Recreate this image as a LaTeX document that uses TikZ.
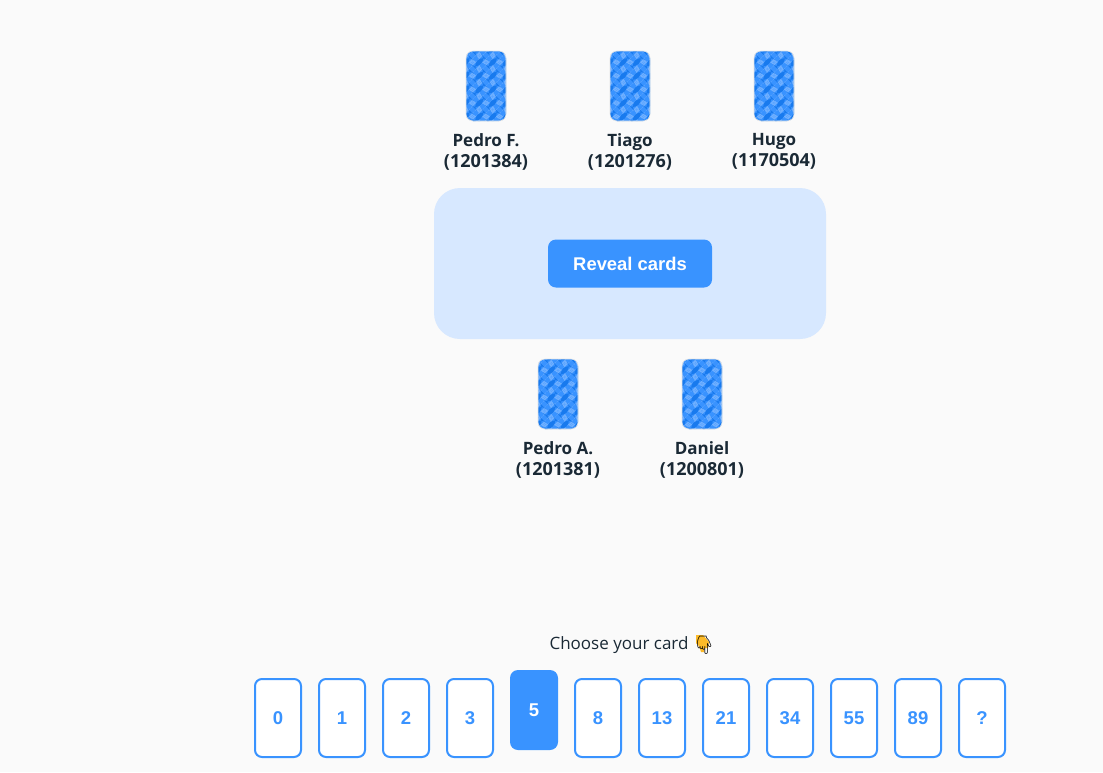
\documentclass[tikz,border=0pt]{standalone}
\usepackage{fontspec}
\setmainfont{Open Sans}
\newfontfamily\btnfont{Liberation Sans}
\newfontfamily\emojifont{Noto Emoji}
\usepackage{tikz}
\usetikzlibrary{positioning}
\definecolor{pagebg}{RGB}{250,250,250}
\definecolor{tablebg}{RGB}{215,232,255}
\definecolor{mainblue}{RGB}{57,147,255}
\definecolor{darkblue}{RGB}{24,122,238}
\definecolor{lightblue}{RGB}{112,176,255}
\definecolor{inkdark}{RGB}{26,41,53}
\definecolor{handyellow}{RGB}{252,186,40}
\tikzset{
  cardback/.style={minimum width=40pt,minimum height=70pt,inner sep=0pt,rounded corners=7pt,
    fill=mainblue,draw=black!10,line width=0.6pt,
    path picture={
      \begin{scope}[shift={(path picture bounding box.center)},x={(3.4pt,3.4pt)},y={(-3.4pt,3.4pt)}]
        \foreach \i in {-12,-10,...,12}
          \foreach \j in {-12,-10,...,12} {
            \fill[lightblue] (\i+1,\j+1) -- ++(1,0) -- ++(0,1) -- ++(-1,0) -- cycle;
            \pgfmathtruncatemacro{\odd}{mod(abs(\i+\j)/2,2)}
            \ifnum\odd=1
              \fill[darkblue] (\i-1,\j) -- ++(3,0) -- ++(0,1) -- ++(-3,0) -- cycle;
            \fi
          }
      \end{scope}}},
  playername/.style={font=\bfseries\fontsize{17}{21}\selectfont,text=inkdark,align=center,inner sep=0pt},
  votecard/.style={minimum width=46pt,minimum height=78pt,inner sep=0pt,rounded corners=7pt,
    draw=mainblue,line width=2pt,fill=white,text=mainblue,font=\btnfont\bfseries\fontsize{18.5}{20}\selectfont},
  votepicked/.style={minimum width=48pt,minimum height=80pt,inner sep=0pt,rounded corners=8pt,
    fill=mainblue,text=white,font=\btnfont\bfseries\fontsize{18.5}{20}\selectfont},
}
\begin{document}
\begin{tikzpicture}[x=1pt,y=-1pt]
  \useasboundingbox[fill=pagebg] (0,0) rectangle (1103,772);
  % table
  \node[minimum width=392pt,minimum height=151pt,inner sep=0pt,rounded corners=26pt,fill=tablebg] (table) at (630,263.5) {};
  \node[minimum width=164pt,minimum height=48pt,inner sep=0pt,rounded corners=8pt,fill=mainblue,text=white,
    font=\btnfont\bfseries\fontsize{18.4}{20}\selectfont] (reveal) at (table.center) {Reveal cards};
  % players
  \foreach \id/\x/\y/\who/\num in {pedrof/486/86/Pedro F./1201384, tiago/630/86/Tiago/1201276, hugo/774/86/Hugo/1170504,
      pedroa/558/394/Pedro A./1201381, daniel/702/394/Daniel/1200801} {
    \node[cardback] (card-\id) at (\x,\y) {};
    \node[playername,below=12pt of card-\id] (name-\id) {\who\\{\fontsize{18}{21}\selectfont(\num)}};
  }
  % deck
  \node[font=\fontsize{17}{20}\selectfont,text=inkdark,inner sep=0pt] (choose) at (619,645) {Choose your card};
  \fill[handyellow] (696,635) -- (703,635) -- (709,642) -- (708,648) -- (704,648) -- (704,652) -- (701,652) -- (699,646) -- (696,643) -- cycle;
  \node[font=\emojifont\fontsize{18}{20}\selectfont,text=black,inner sep=0pt,right=4pt of choose] (hand) {^^^^^^01f447};
  \foreach \val [count=\n from 0] in {0,1,2,3,5,8,13,21,34,55,89,?} {
    \pgfmathsetmacro{\cx}{278+64*\n}
    \ifnum\n=4
      \node[votepicked] (vote-\n) at (\cx,710) {\val};
    \else
      \node[votecard] (vote-\n) at (\cx,718) {\val};
    \fi
  }
\end{tikzpicture}
\end{document}
